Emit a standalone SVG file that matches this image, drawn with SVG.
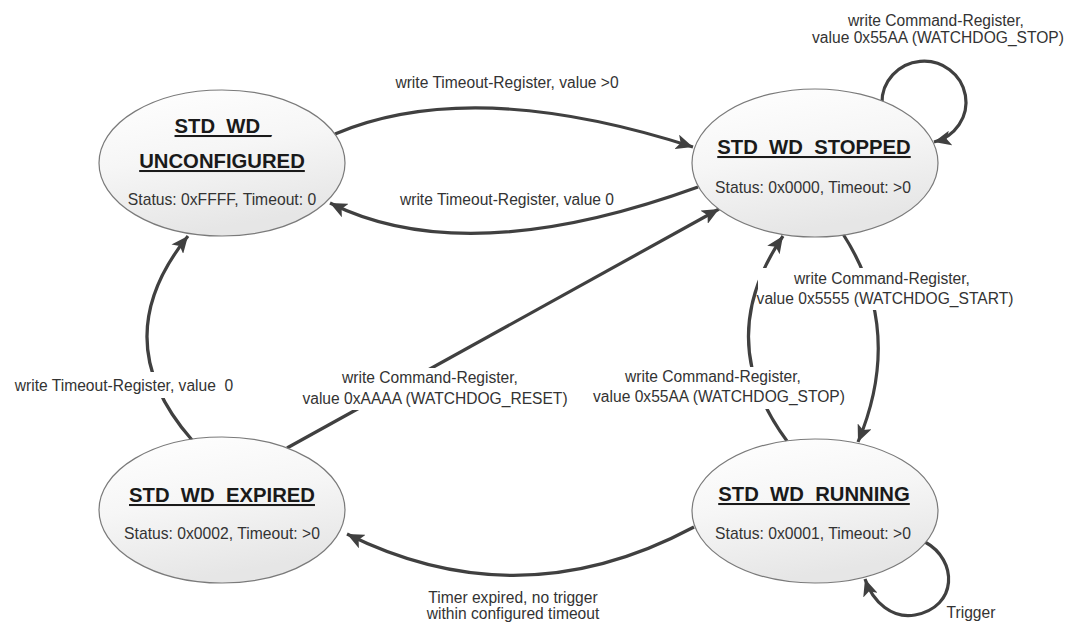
<svg xmlns="http://www.w3.org/2000/svg" width="1065" height="623" viewBox="0 0 1065 623">
<defs>
<linearGradient id="fill" x1="0" y1="0" x2="0.3" y2="1">
<stop offset="0" stop-color="#ffffff"/>
<stop offset="0.5" stop-color="#f6f6f6"/>
<stop offset="1" stop-color="#e6e6e6"/>
</linearGradient>
<marker id="arr" markerUnits="userSpaceOnUse" markerWidth="19" markerHeight="15" refX="17" refY="7.5" orient="auto">
<path d="M0,0 L17,7.5 L0,15 L4,7.5 z" fill="#404040"/>
</marker>
<style>
.st{fill:url(#fill);stroke:#7a7a7a;stroke-width:1.2}
.title{font-family:"Liberation Sans",Arial,sans-serif;font-weight:bold;font-size:20.3px;fill:#1a1a1a;text-anchor:middle;text-decoration:underline}
.sub{font-family:"Liberation Sans",Arial,sans-serif;font-size:15.7px;fill:#333;text-anchor:middle}
.lbl{font-family:"Liberation Sans",Arial,sans-serif;font-size:15.6px;fill:#333;text-anchor:middle}
.c{fill:none;stroke:#404040;stroke-width:3.2;marker-end:url(#arr)}
.bg{fill:#ffffff}
</style>
</defs>
<rect width="1065" height="623" fill="#ffffff"/>

<g id="connectors">
<path class="c" d="M335,134 Q472,76 693,147"/>
<path class="c" d="M698,187 Q466,271 330,203"/>
<path class="c" d="M882,103 A42,41 0 1 1 934,142"/>
<path class="c" d="M843,234 Q905,330 858,442"/>
<path class="c" d="M787,441 Q712,340 783,236"/>
<path class="c" d="M287,448 L719,209"/>
<path class="c" d="M192,440 Q104,340 188,236"/>
<path class="c" d="M694,527 Q520,620 347,534"/>
<path class="c" d="M925,542 C958,560 958,607 915,615 C893,619 873,603 865,579"/>
</g>

<g id="labels">
<text class="lbl" x="507" y="88">write Timeout-Register, value &gt;0</text>
<text class="lbl" x="507" y="205">write Timeout-Register, value 0</text>
<text class="lbl" x="936" y="26">write Command-Register,</text>
<text class="lbl" x="938" y="43">value 0x55AA (WATCHDOG_STOP)</text>
<rect class="bg" x="758" y="268" width="254" height="42"/>
<text class="lbl" x="882" y="284">write Command-Register,</text>
<text class="lbl" x="885" y="304">value 0x5555 (WATCHDOG_START)</text>
<rect class="bg" x="593" y="367" width="252" height="42"/>
<text class="lbl" x="713" y="382">write Command-Register,</text>
<text class="lbl" x="719" y="402">value 0x55AA (WATCHDOG_STOP)</text>
<rect class="bg" x="305" y="368" width="260" height="42"/>
<text class="lbl" x="430" y="383">write Command-Register,</text>
<text class="lbl" x="435" y="404">value 0xAAAA (WATCHDOG_RESET)</text>
<rect class="bg" x="6" y="372" width="236" height="26"/>
<text class="lbl" x="124" y="391" xml:space="preserve">write Timeout-Register, value  0</text>
<text class="lbl" x="513" y="603">Timer expired, no trigger</text>
<text class="lbl" x="513" y="619">within configured timeout</text>
<text class="lbl" x="971" y="618">Trigger</text>
</g>

<g id="unconfigured">
<ellipse class="st" cx="222" cy="163" rx="123" ry="73"/>
<text class="title" x="223" y="133">STD_WD_</text>
<text class="title" x="222" y="168">UNCONFIGURED</text>
<text class="sub" x="222" y="205">Status: 0xFFFF, Timeout: 0</text>
</g>

<g id="stopped">
<ellipse class="st" cx="815" cy="163" rx="123" ry="74"/>
<text class="title" x="814" y="154">STD_WD_STOPPED</text>
<text class="sub" x="813" y="193">Status: 0x0000, Timeout: &gt;0</text>
</g>

<g id="expired">
<ellipse class="st" cx="222" cy="510" rx="123" ry="73"/>
<text class="title" x="222" y="502">STD_WD_EXPIRED</text>
<text class="sub" x="222" y="539">Status: 0x0002, Timeout: &gt;0</text>
</g>

<g id="running">
<ellipse class="st" cx="815" cy="511" rx="123" ry="72"/>
<text class="title" x="814" y="501">STD_WD_RUNNING</text>
<text class="sub" x="813" y="539">Status: 0x0001, Timeout: &gt;0</text>
</g>
</svg>
